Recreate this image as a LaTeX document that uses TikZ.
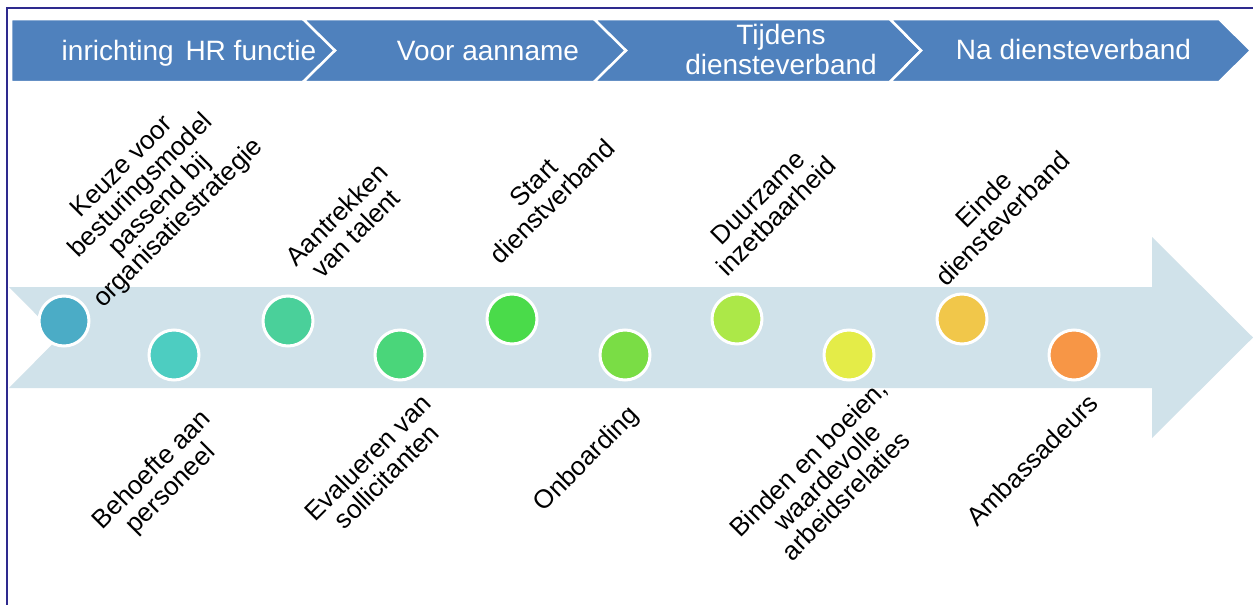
\documentclass[tikz,border=0pt]{standalone}
\usepackage{fontspec}
\setmainfont{Liberation Sans}
\definecolor{hdr}{HTML}{4F81BD}
\definecolor{arr}{HTML}{D0E2EA}
\definecolor{bordercol}{HTML}{2E2A8E}
\definecolor{c1}{HTML}{4BACC6}
\definecolor{c2}{HTML}{4DCDC1}
\definecolor{c3}{HTML}{4AD09A}
\definecolor{c4}{HTML}{4AD67A}
\definecolor{c5}{HTML}{4ADB4A}
\definecolor{c6}{HTML}{7ADD45}
\definecolor{c7}{HTML}{ACE848}
\definecolor{c8}{HTML}{E4EC48}
\definecolor{c9}{HTML}{F1C74A}
\definecolor{c10}{HTML}{F79646}
\begin{document}
\begin{tikzpicture}[x=1pt,y=-1pt,
  chev/.style={fill=hdr, draw=white, line width=2.5pt, line join=miter},
  hdrtext/.style={text=white, font=\fontsize{28}{30}\selectfont, inner sep=0pt, align=center},
  dot/.style={circle, draw=white, line width=3pt, minimum size=50pt, inner sep=0pt},
  lbl/.style={rotate=45, inner sep=0pt, align=center, font=\fontsize{26}{26.5}\selectfont}]
\useasboundingbox (0,0) rectangle (1253,605);
\fill[white] (0,0) rectangle (1253,605);
% frame
\draw[bordercol, line width=2pt] (7,605) -- (7,8) -- (1253,8);
% header chevrons
\draw[chev] (11,19) -- (303,19) -- (335,50.5) -- (303,82) -- (11,82) -- cycle;
\draw[chev] (303,19) -- (594,19) -- (626,50.5) -- (594,82) -- (303,82) -- (335,50.5) -- cycle;
\draw[chev] (594,19) -- (890,19) -- (921,50.5) -- (890,82) -- (594,82) -- (626,50.5) -- cycle;
\draw[chev] (890,19) -- (1219,19) -- (1251,50.5) -- (1219,82) -- (890,82) -- (921,50.5) -- cycle;
\node[hdrtext, anchor=base] (h1) at (189,60) {inrichting\hspace{4pt} HR functie};
\node[hdrtext, anchor=base] (h2) at (488,60) {Voor aanname};
\node[hdrtext] (h3) at (781,49) {Tijdens\\diensteverband};
\node[hdrtext, anchor=base] (h4) at (1073.5,59) {Na diensteverband};
% big arrow
\fill[arr] (9,287) -- (1152,287) -- (1152,237) -- (1253,337.5) -- (1152,438) -- (1152,388) -- (9,388) -- (59,337.5) -- cycle;
% circles
\node[dot, fill=c1] (d1) at (64,321) {};
\node[dot, fill=c2] (d2) at (174,355) {};
\node[dot, fill=c3] (d3) at (288,321) {};
\node[dot, fill=c4] (d4) at (400,355) {};
\node[dot, fill=c5] (d5) at (512,319) {};
\node[dot, fill=c6] (d6) at (625,355) {};
\node[dot, fill=c7] (d7) at (737,319) {};
\node[dot, fill=c8] (d8) at (849,355) {};
\node[dot, fill=c9] (d9) at (962,319) {};
\node[dot, fill=c10] (d10) at (1074,355) {};
% labels
\node[lbl] (l1) at (151,196) {Keuze voor\\besturingsmodel\\passend bij\\organisatiestrategie};
\node[lbl] (l2) at (162,480) {Behoefte aan\\personeel};
\node[lbl] (l3) at (346,224) {Aantrekken\\van talent};
\node[lbl] (l4) at (377,467) {Evalueren van\\sollicitanten};
\node[lbl] (l5) at (543,192) {Start\\dienstverband};
\node[lbl] (l6) at (587,460) {Onboarding};
\node[lbl] (l7) at (767,207) {Duurzame\\inzetbaarheid};
\node[lbl] (l8) at (827,477) {Binden en boeien,\\waardevolle\\arbeidsrelaties};
\node[lbl] (l9) at (993,209) {Einde\\diensteverband};
\node[lbl] (l10) at (1032,460) {Ambassadeurs};
\end{tikzpicture}
\end{document}
